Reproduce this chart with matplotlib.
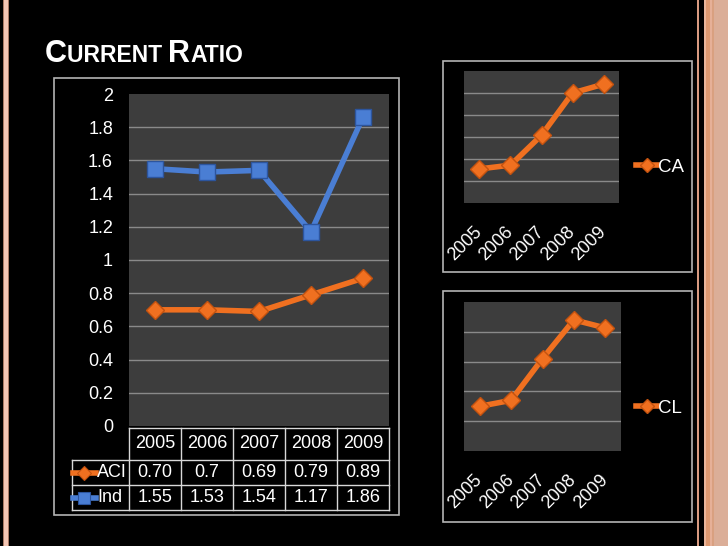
import matplotlib
matplotlib.use("Agg")
import matplotlib.pyplot as plt
import numpy as np
from matplotlib.patches import Rectangle
from matplotlib.transforms import blended_transform_factory

# ---------------- data ----------------
years = ["2005", "2006", "2007", "2008", "2009"]
aci = [0.70, 0.70, 0.69, 0.79, 0.89]
aci_labels = ["0.70", "0.7", "0.69", "0.79", "0.89"]
ind = [1.55, 1.53, 1.54, 1.17, 1.86]
ind_labels = ["1.55", "1.53", "1.54", "1.17", "1.86"]
ca = [1.55, 1.72, 3.08, 5.0, 5.4]
cl = [1.5, 1.7, 3.1, 4.4, 4.13]
yticks_main = [0, 0.2, 0.4, 0.6, 0.8, 1, 1.2, 1.4, 1.6, 1.8, 2]

W, H = 728, 546
ORANGE = "#f07020"
ORANGE_E = "#c4520f"
BLUE = "#4a7ed4"
BLUE_E = "#2c559e"
PLOTBG = "#3d3d3d"
GRID = "#8a8a8a"
BOX = "#b4b4b4"
FONT = ["Liberation Sans", "DejaVu Sans"]

plt.rcParams["font.family"] = FONT

def fx(px):
    return px / W

def fy(py):
    return 1 - py / H

fig = plt.figure(figsize=(W / 100, H / 100), dpi=100, facecolor="black")

# ---------------- slide decoration ----------------
def frect(x0, y0, x1, y1, color, fill=True, lw=0, ec=None, z=0):
    r = Rectangle((fx(x0), fy(y1)), fx(x1) - fx(x0), fy(y0) - fy(y1),
                  transform=fig.transFigure, facecolor=color if fill else "none",
                  edgecolor=ec if ec else "none", lw=lw, zorder=z)
    fig.patches.append(r)

frect(3.3, 0, 8.7, H, "#f3c6b4")
frect(3.3, 0, 4.2, H, "#a87a66")
frect(7.6, 0, 8.7, H, "#a87a66")
frect(696.5, 0, 698.5, H, "#d89a80")
frect(704, 0, 728, H, "#dbae98")
frect(704, 0, 706, H, "#e8b49a")
frect(706, 0, 709.5, H, "#dc9870")
frect(709.5, 0, 712, H, "#e6b098")
frect(712, 0, 713.5, H, "#d9a080")

# chart boxes
frect(54, 78, 399, 515, "none", fill=False, lw=1.2, ec=BOX)
frect(443, 61, 692, 272, "none", fill=False, lw=1.2, ec=BOX)
frect(443, 291, 692, 522, "none", fill=False, lw=1.2, ec=BOX)

# ---------------- title (small caps) ----------------
renderer = fig.canvas.get_renderer()
pieces = [("C", 22), ("URRENT ", 16.5), ("R", 22), ("ATIO", 16.5)]
xpos = 45
for txt, sz in pieces:
    t = fig.text(fx(xpos), fy(62), txt, color="white", fontsize=sz,
                 fontweight="bold", family=["Liberation Sans", "DejaVu Sans"],
                 va="baseline", ha="left")
    bb = t.get_window_extent(renderer=renderer)
    xpos += bb.width

# ---------------- main chart ----------------
ax = fig.add_axes([fx(129), fy(426), fx(389) - fx(129), (426 - 94) / H])
ax.set_facecolor(PLOTBG)
for s in ax.spines.values():
    s.set_visible(False)
x = np.arange(len(years))
ax.set_xlim(-0.5, len(years) - 0.5)
ax.set_ylim(0, 2)
ax.set_yticks(yticks_main)
ax.set_yticklabels([f"{v:g}" for v in yticks_main], color="white", fontsize=13)
ax.tick_params(axis="y", length=0, pad=11.5)
ax.set_xticks([])
for v in yticks_main[1:-1]:
    ax.axhline(v, color=GRID, lw=1, zorder=1)

ax.plot(x, ind, color=BLUE, lw=4, marker="s", ms=11, mfc=BLUE, mec=BLUE_E,
        mew=1, zorder=3)
ax.plot(x, aci, color=ORANGE, lw=4, marker="D", ms=9, mfc=ORANGE, mec=ORANGE_E,
        mew=1, zorder=3)

# ---------------- data table ----------------
trans = blended_transform_factory(ax.transData, ax.transAxes)
ph = 426 - 94
cw = 52.0
xh = -0.5 - (129 - 72) / cw
r0 = -2 / ph
r1 = -(460 - 426) / ph
r2 = -(485 - 426) / ph
r3 = -(510 - 426) / ph
LC = "#d8d8d8"
kw = dict(transform=trans, clip_on=False, color=LC, lw=1)
n = len(years)
ax.plot([-0.5, n - 0.5], [r0, r0], **kw)
for r in (r1, r2, r3):
    ax.plot([xh, n - 0.5], [r, r], **kw)
for i in range(n + 1):
    ax.plot([i - 0.5, i - 0.5], [r0, r3], **kw)
ax.plot([xh, xh], [r1, r3], **kw)

for i in range(n):
    ax.text(i, (r0 + r1) / 2, years[i], transform=trans, color="white",
            fontsize=13, ha="center", va="center")
    ax.text(i, (r1 + r2) / 2, aci_labels[i], transform=trans, color="white",
            fontsize=13, ha="center", va="center")
    ax.text(i, (r2 + r3) / 2, ind_labels[i], transform=trans, color="white",
            fontsize=13, ha="center", va="center")

lx0 = xh + 1 / cw
lx1 = xh + 24 / cw
lxm = xh + 12 / cw
for (yy, col, ec, mk, ms, name) in [((r1 + r2) / 2, ORANGE, ORANGE_E, "D", 7, "ACI"),
                                     ((r2 + r3) / 2, BLUE, BLUE_E, "s", 8, "Ind")]:
    ax.plot([lx0, lx1], [yy, yy], transform=trans, clip_on=False, color=col, lw=4)
    ax.plot([lxm], [yy], transform=trans, clip_on=False, marker=mk, ms=ms,
            color=col, mec=ec, mew=0.8)
    ax.text(xh + 25 / cw, yy, name, transform=trans, color="white", fontsize=13,
            ha="left", va="center")

# ---------------- small charts ----------------
def small_chart(left, right, top, bottom, vals, ymax, label, leg_y):
    a = fig.add_axes([fx(left), fy(bottom), fx(right) - fx(left), (bottom - top) / H])
    a.set_facecolor(PLOTBG)
    for s in a.spines.values():
        s.set_visible(False)
    a.set_xlim(-0.5, len(years) - 0.5)
    a.set_ylim(0, ymax)
    for v in range(1, ymax):
        a.axhline(v, color=GRID, lw=1, zorder=1)
    a.set_yticks([])
    a.set_xticks(np.arange(len(years)))
    a.set_xticklabels(years, rotation=45, ha="right", va="center",
                      rotation_mode="anchor", color="white", fontsize=13)
    a.tick_params(axis="x", length=0, pad=19)
    a.plot(np.arange(len(years)), vals, color=ORANGE, lw=4, marker="D", ms=9,
           mfc=ORANGE, mec=ORANGE_E, mew=1, zorder=3, label=label)
    a.legend(loc="center left", bbox_to_anchor=(fx(627), fy(leg_y)),
             bbox_transform=fig.transFigure, frameon=False, fontsize=13.5,
             handlelength=1.1, handletextpad=0.05, borderpad=0,
             labelcolor="white", markerscale=0.75)
    return a

small_chart(464, 619, 71, 203, ca, 6, "CA", 167)
small_chart(464, 621, 302, 451, cl, 5, "CL", 408)

fig.savefig("out.png", dpi=100, facecolor="black")
